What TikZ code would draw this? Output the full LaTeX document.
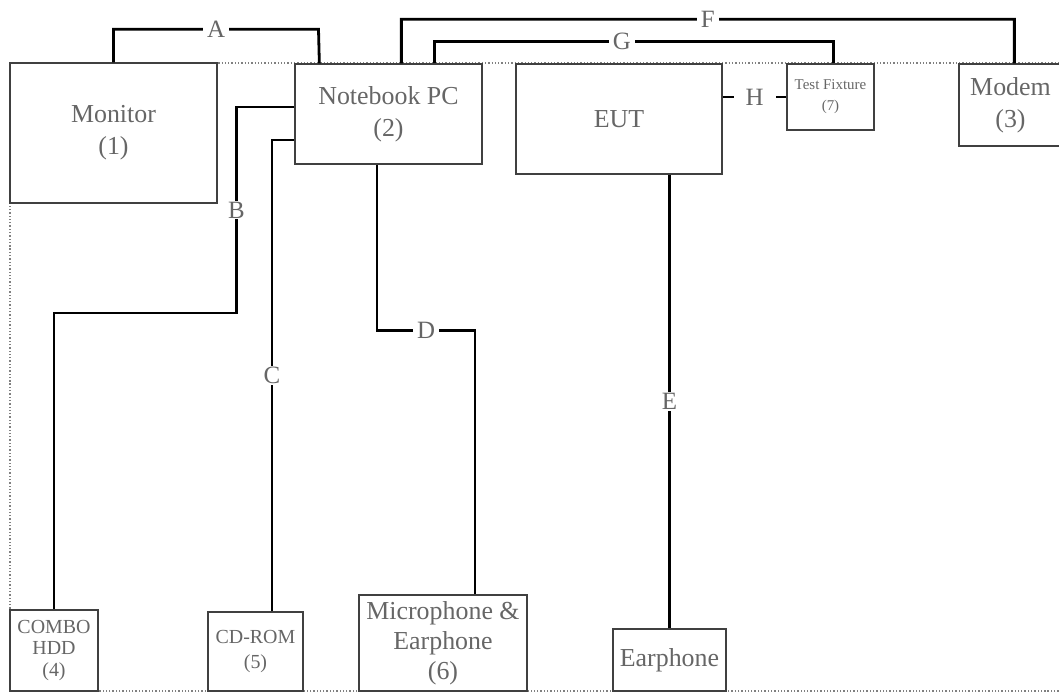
\documentclass[tikz,border=0pt]{standalone}
\usepackage{fontspec}
\setmainfont{Liberation Serif}
\usepackage{tikz}
\usetikzlibrary{positioning}

\begin{document}
\begin{tikzpicture}[line join=miter,
  unit/.style={draw=black!75,line width=1.3bp,text=black!60,align=center,inner sep=0pt,
    font=\fontsize{26}{32}\selectfont},
  smallunit/.style={unit,font=\fontsize{20}{22}\selectfont},
  cable/.style={black,line width=2.8bp},
  tag/.style={fill=white,text=black!60,inner xsep=4bp,inner ysep=1bp,font=\fontsize{25}{25}\selectfont},
]
\useasboundingbox (0bp,0bp) rectangle (1059bp,693bp);
%%
\draw [black!50,dotted,line width=1.3bp] (10bp,2bp) rectangle (1062bp,630bp);
%%
\node (monitor) at (113.5bp,560bp) [unit,minimum width=207bp,minimum height=140bp] {Monitor\\(1)};
  \node (notebook) at (388.5bp,579bp) [unit,minimum width=187bp,minimum height=100bp] {Notebook PC\\(2)};
  \node (eut) at (619bp,574bp) [unit,minimum width=206bp,minimum height=110bp] {EUT};
  \node (fixture) at (830.5bp,596bp) [unit,minimum width=87bp,minimum height=66bp,font=\fontsize{15}{21}\selectfont] {Test Fixture\\(7)};
  \node (modem) at (1010.5bp,588bp) [unit,minimum width=103bp,minimum height=82bp] {Modem\\(3)};
  \node (combo) at (54bp,42.5bp) [smallunit,minimum width=88bp,minimum height=81bp] {COMBO\\HDD\\(4)};
  \node (cdrom) at (255.5bp,41.5bp) [smallunit,minimum width=95bp,minimum height=79bp,font=\fontsize{20}{25}\selectfont] {CD-ROM\\(5)};
  \node (mic) at (443bp,50bp) [unit,minimum width=168bp,minimum height=96bp,font=\fontsize{26}{30}\selectfont] {Microphone \&\\Earphone\\(6)};
  \node (earph) at (669.5bp,33bp) [unit,minimum width=113bp,minimum height=62bp] {Earphone};
%%
\draw [cable] (monitor.north) -- ++(0bp,33bp) -- node[tag] {A} ++(205bp,0bp) -- ([xshift=25bp]notebook.north west);
  \draw [cable] ([xshift=107bp]notebook.north west) -- ++(0bp,44bp) -- node[tag] {F} ++(613bp,0bp) -- ([xshift=56bp]modem.north west);
  \draw [cable] ([xshift=140bp]notebook.north west) -- ++(0bp,22bp) -- node[tag,pos=0.47] {G} ++(399bp,0bp) -- ([xshift=47bp]fixture.north west);
  \draw [cable] (eut.east |- fixture.west) -- node[tag,inner xsep=12bp] {H} (fixture.west);
  \draw [cable] ([yshift=7bp]notebook.west) -- ++(-58bp,0bp) -- node[tag] {B} ++(0bp,-206bp) -| (combo.north);
  \draw [cable] ([xshift=16.5bp]cdrom.north) |- node[tag,pos=0.25] {C} ([yshift=-26bp]notebook.west);
  \draw [cable] ([xshift=-11.5bp]notebook.south) -- ++(0bp,-166bp) -- node[tag] {D} ++(98bp,0bp) -- ([xshift=32bp]mic.north);
  \draw [cable] (earph.north) -- node[tag] {E} (earph.north |- eut.south);
%
\end{tikzpicture}
\end{document}
